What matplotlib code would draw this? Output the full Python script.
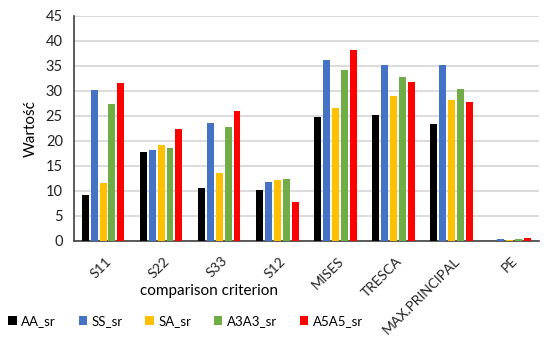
import numpy as np
import matplotlib.pyplot as plt
import matplotlib.transforms as mtransforms

# categories and series values
categories = ['S11', 'S22', 'S33', 'S12', 'MISES', 'TRESCA', 'MAX.PRINCIPAL', 'PE']
series_names = ['AA_sr', 'SS_sr', 'SA_sr', 'A3A3_sr', 'A5A5_sr']
aa_sr = [9.2, 17.7, 10.6, 10.2, 24.8, 25.1, 23.3, 0.05]
ss_sr = [30.1, 18.2, 23.6, 11.7, 36.2, 35.1, 35.1, 0.45]
sa_sr = [11.5, 19.1, 13.6, 12.2, 26.6, 29.0, 28.2, 0.1]
a3a3_sr = [27.4, 18.5, 22.7, 12.3, 34.1, 32.8, 30.4, 0.3]
a5a5_sr = [31.6, 22.3, 26.0, 7.8, 38.1, 31.8, 27.7, 0.55]
colors = ['#000000', '#4472C4', '#FFC000', '#70AD47', '#FF0000']

plt.rcParams['font.family'] = ['Lato', 'DejaVu Sans']

fig = plt.figure(figsize=(5.5, 3.38), dpi=100)
ax = fig.add_axes([0.1345, 0.287, 0.845, 0.666])

x = np.arange(len(categories))
slot = 0.153
all_series = [aa_sr, ss_sr, sa_sr, a3a3_sr, a5a5_sr]
for i, (vals, name, c) in enumerate(zip(all_series, series_names, colors)):
    ax.bar(x + (i - 2) * slot, vals, width=0.12, color=c, linewidth=0,
           label=name, zorder=3)

ax.set_xlim(-0.5, len(categories) - 0.5)
ax.set_ylim(0, 45)
ax.set_yticks(np.arange(0, 46, 5))
ax.grid(axis='y', color='#D9D9D9', linewidth=1.3, zorder=0)
ax.tick_params(axis='both', length=0, colors='#222222')
ax.tick_params(axis='y', pad=8, labelsize=10.5)
ax.tick_params(axis='x', pad=13, labelsize=10)
ax.set_xticks(x)
ax.set_xticklabels(categories, rotation=45, ha='right', va='center',
                   rotation_mode='anchor')
shift = mtransforms.ScaledTranslation(6 / 100, 0, fig.dpi_scale_trans)
for lbl in ax.get_xticklabels():
    lbl.set_transform(lbl.get_transform() + shift)
for s in ['top', 'right']:
    ax.spines[s].set_visible(False)
for s in ['left', 'bottom']:
    ax.spines[s].set_color('#404040')
    ax.spines[s].set_linewidth(1.2)

ax.set_ylabel('Wartość', fontsize=11)
ax.yaxis.set_label_coords(-0.077, 0.5)
fig.text(0.38, 0.139, 'comparison criterion', fontsize=11, ha='center', va='center')

fig.legend(loc='center left', bbox_to_anchor=(0.015, 0.05), ncol=5, frameon=False,
           fontsize=9.5, handlelength=0.65, handleheight=0.65, handletextpad=0.35,
           columnspacing=1.7, borderaxespad=0, borderpad=0)

fig.savefig('out.png', dpi=100)
